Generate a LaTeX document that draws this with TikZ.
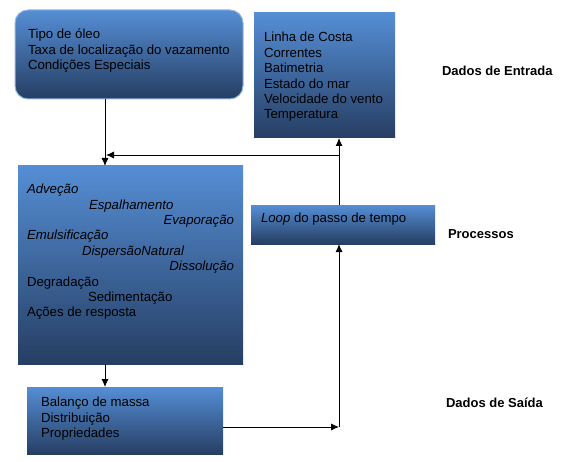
\documentclass[tikz,border=0pt]{standalone}
\usepackage{fontspec}
\setmainfont{Liberation Sans}
\usepackage{tikz}
\usetikzlibrary{arrows.meta, positioning}

\definecolor{boxtop}{RGB}{85,142,213}
\definecolor{boxbot}{RGB}{38,62,99}
\definecolor{boxrim}{RGB}{150,182,226}

\begin{document}
\begin{tikzpicture}
[
    x = 1pt, y = -1pt,
    every node/.style = {inner sep = 0pt, outer sep = 0pt},
    >= {Latex[length=8pt, width=7pt]},
    line width = 0.9pt
  ]

  \tikzset{BoxStyle/.style = {rectangle,
                                anchor       = north west,
                                top color    = boxtop,
                                bottom color = boxbot},
           TextStyle/.style = {anchor = base west,
                                text   = black,
                                font   = \fontsize{13.2}{15.5}\selectfont},
           LabelStyle/.style = {anchor = base west,
                                text   = black,
                                font   = \fontsize{13}{15.5}\selectfont\bfseries}}

  \useasboundingbox (0,0) rectangle (577,462);

  % boxes
  \node[BoxStyle, rounded corners = 13pt, draw = boxrim, line width = 1pt,
        minimum width = 228pt, minimum height = 89pt](ent1) at (15,10){};
  \node[BoxStyle, minimum width = 141pt, minimum height = 125pt](ent2) at (254,13){};
  \node[BoxStyle, minimum width = 225pt, minimum height = 198pt](proc) at (18,166){};
  \node[BoxStyle, minimum width = 184pt, minimum height = 39pt](loop) at (251,205){};
  \node[BoxStyle, minimum width = 196pt, minimum height = 67pt](sai) at (27,387){};

  % texts
  \node[TextStyle](a1) at (28,39){Tipo de óleo};
  \node[TextStyle](a2) at (28,54.5){Taxa de localização do vazamento};
  \node[TextStyle](a3) at (28,70){Condições Especiais};

  \node[TextStyle](b1) at (264,42){Linha de Costa};
  \node[TextStyle](b2) at (264,57.4){Correntes};
  \node[TextStyle](b3) at (264,72.8){Batimetria};
  \node[TextStyle](b4) at (264,88.2){Estado do mar};
  \node[TextStyle](b5) at (264,103.6){Velocidade do vento};
  \node[TextStyle](b6) at (264,119){Temperatura};

  \node[TextStyle](c1) at (27,193.7){\itshape Adveção};
  \node[TextStyle](c2) at (89,209.1){\itshape Espalhamento};
  \node[TextStyle, anchor = base east](c3) at (234,224.5){\itshape Evaporação};
  \node[TextStyle](c4) at (27,239.9){\itshape Emulsificação};
  \node[TextStyle](c5) at (82,255.3){\itshape DispersãoNatural};
  \node[TextStyle, anchor = base east](c6) at (234,270.7){\itshape Dissolução};
  \node[TextStyle](c7) at (27,286.1){Degradação};
  \node[TextStyle](c8) at (88,301.5){Sedimentação};
  \node[TextStyle](c9) at (27,316.9){Ações de resposta};

  \node[TextStyle](d1) at (261,222.7){\textit{Loop} do passo de tempo};

  \node[TextStyle](e1) at (41,406.7){Balanço de massa};
  \node[TextStyle](e2) at (41,422.2){Distribuição};
  \node[TextStyle](e3) at (41,437.7){Propriedades};

  \node[LabelStyle](lab1) at (442,76){Dados de Entrada};
  \node[LabelStyle](lab2) at (448,238){Processos};
  \node[LabelStyle](lab3) at (446,407){Dados de Saída};

  % connectors
  \coordinate (j1) at (105,155);
  \coordinate (j2) at (339,155);
  \coordinate (j3) at (339,427);

  \draw[->] (ent1.south -| j1) to (proc.north -| j1);
  \draw (loop.north -| j2) to (j2);
  \draw[->] (j2) to (ent2.south -| j2);
  \draw[->] (j2) to ([xshift=1pt]j1);
  \draw[->] (proc.south -| j1) to (sai.north -| j1);
  \draw[->] (sai.east |- j3) to (j3);
  \draw[->] (j3) to (loop.south -| j3);

\end{tikzpicture}
\end{document}
